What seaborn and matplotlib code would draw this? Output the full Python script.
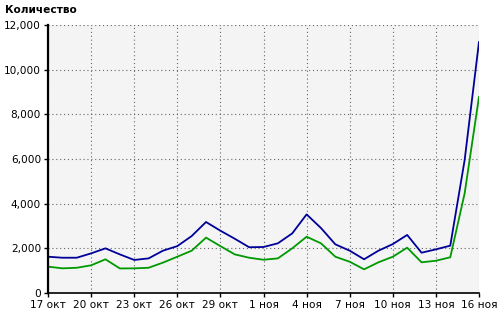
import matplotlib
matplotlib.use("Agg")
import matplotlib.pyplot as plt
import seaborn as sns
import pandas as pd
from matplotlib.ticker import FuncFormatter

dates = ["17 окт", "18 окт", "19 окт", "20 окт", "21 окт", "22 окт", "23 окт",
         "24 окт", "25 окт", "26 окт", "27 окт", "28 окт", "29 окт", "30 окт",
         "31 окт", "1 ноя", "2 ноя", "3 ноя", "4 ноя", "5 ноя", "6 ноя", "7 ноя",
         "8 ноя", "9 ноя", "10 ноя", "11 ноя", "12 ноя", "13 ноя", "14 ноя",
         "15 ноя", "16 ноя"]

blue_values = [1625, 1580, 1580, 1775, 2000, 1730, 1480, 1550, 1895, 2100,
               2550, 3180, 2790, 2430, 2050, 2060, 2225, 2670, 3520, 2910,
               2180, 1895, 1510, 1895, 2190, 2600, 1805, 1955, 2120, 5950,
               11250]
green_values = [1180, 1105, 1130, 1240, 1510, 1100, 1105, 1130, 1360, 1625,
                1895, 2480, 2100, 1730, 1580, 1490, 1550, 2000, 2520, 2225,
                1625, 1400, 1060, 1375, 1625, 2030, 1375, 1445, 1600, 4460,
                8790]

y_ticks = [0, 2000, 4000, 6000, 8000, 10000, 12000]
title = "Количество"

df = pd.DataFrame({
    "day": list(range(len(dates))) * 2,
    "value": blue_values + green_values,
    "series": ["blue"] * len(dates) + ["green"] * len(dates),
})

sns.set_theme(style="white")
plt.rcParams["font.family"] = ["DejaVu Sans"]

fig = plt.figure(figsize=(5, 3.15), dpi=100)
ax = fig.add_axes([0.096, 0.0698, 0.862, 0.8508])
ax.set_facecolor("#f4f4f4")

sns.lineplot(data=df, x="day", y="value", hue="series",
             palette={"blue": "#000099", "green": "#009900"},
             hue_order=["green", "blue"],
             linewidth=1.3, legend=False, ax=ax)

ax.set_xlim(0, len(dates) - 1)
ax.set_ylim(0, 12000)
tick_pos = list(range(0, len(dates), 3))
ax.set_xticks(tick_pos)
ax.set_xticklabels([dates[i] for i in tick_pos])
ax.set_yticks(y_ticks)
ax.yaxis.set_major_formatter(FuncFormatter(lambda v, p: f"{int(v):,}"))

ax.grid(True, linestyle=(0, (1, 2.5)), color="#666666", linewidth=0.8)
ax.set_axisbelow(True)
for s in ["top", "right"]:
    ax.spines[s].set_visible(False)
ax.spines["left"].set_color("black")
ax.spines["left"].set_linewidth(1.6)
ax.spines["bottom"].set_color("black")
ax.spines["bottom"].set_linewidth(1.2)

ax.tick_params(axis="both", which="major", direction="out", length=3,
               width=1, color="black", labelsize=7.6, labelcolor="black", pad=2,
               left=True, bottom=True)
ax.set_xlabel("")
ax.set_ylabel("")

fig.text(0.01, 0.985, title, ha="left", va="top", fontsize=7.6,
         fontweight="bold", color="black")

fig.savefig("out.png", dpi=100, facecolor="white")
